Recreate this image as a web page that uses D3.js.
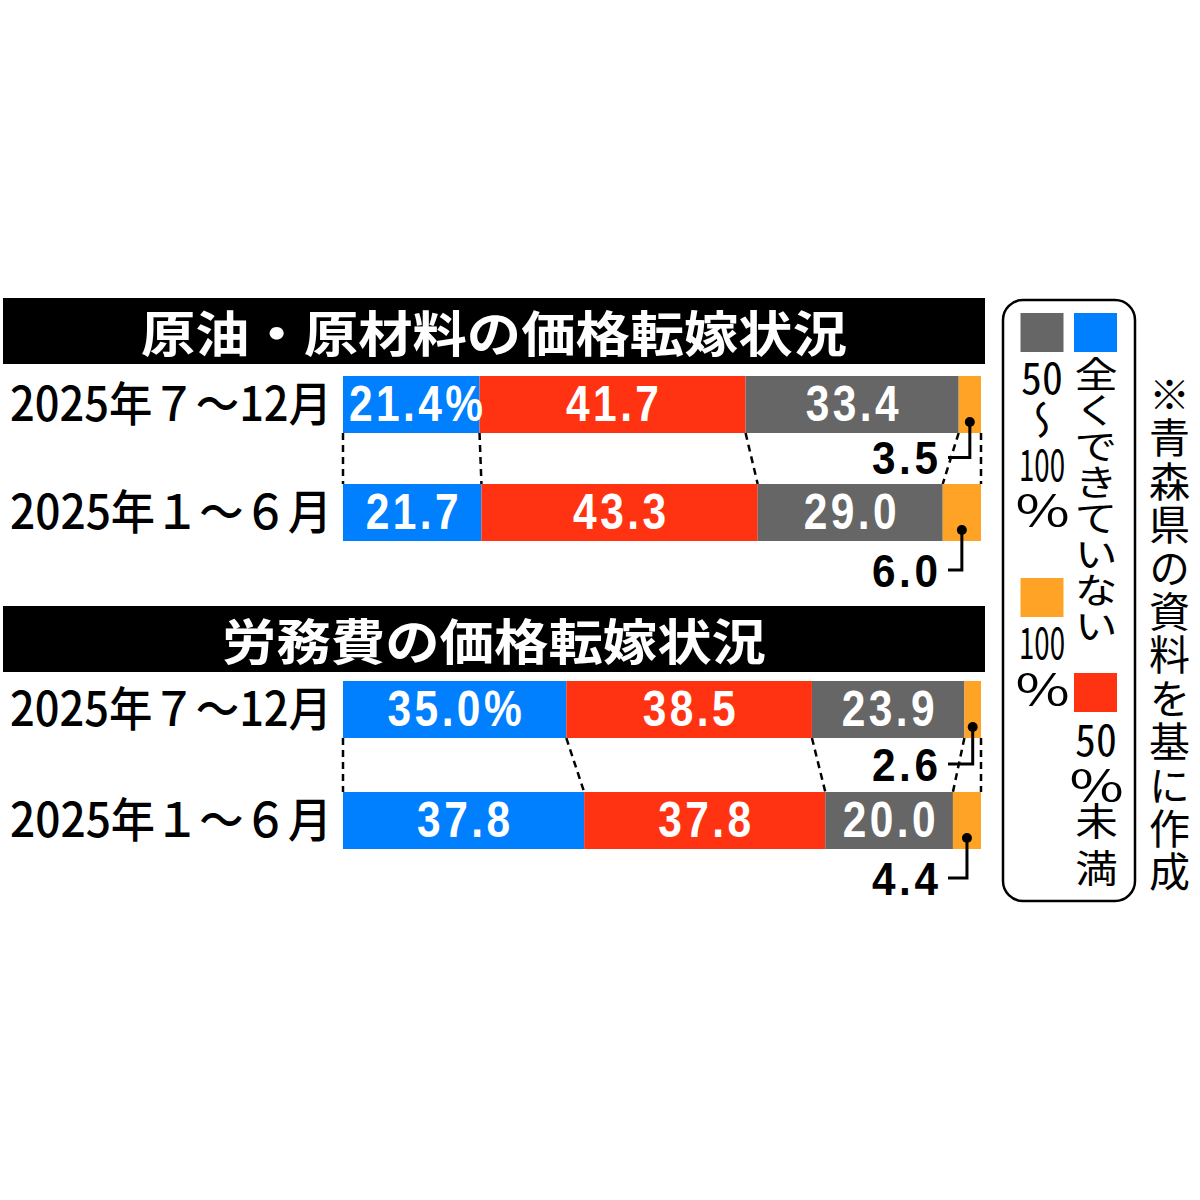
<!DOCTYPE html>
<html><head><meta charset="utf-8">
<script src="https://cdn.jsdelivr.net/npm/d3@7"></script>
<style>
html,body{margin:0;padding:0;background:#fff;}
#wrap{position:relative;width:1200px;height:1200px;overflow:hidden;}
svg{display:block;position:absolute;left:0;top:0;}
.vt{position:absolute;writing-mode:vertical-rl;line-height:1;white-space:nowrap;color:#000;
    font-family:'Noto Sans CJK JP','Noto Sans',sans-serif;font-weight:400;transform-origin:center top;}
.tcy{text-combine-upright:all;}
</style>
</head><body>
<div id="wrap"><svg id="chart" width="1200" height="1200"></svg></div>
<script>
// ---------- data ----------
const categories = ["全くできていない", "50%未満", "50～100%", "100%"];
const groupTitles = ["原油・原材料の価格転嫁状況", "労務費の価格転嫁状況"];
const periods = ["2025年７～12月", "2025年１～６月"];
const materialsJulDec = [21.4, 41.7, 33.4, 3.5];
const materialsJanJun = [21.7, 43.3, 29.0, 6.0];
const laborJulDec = [35.0, 38.5, 23.9, 2.6];
const laborJanJun = [37.8, 37.8, 20.0, 4.4];
const sourceNote = "※青森県の資料を基に作成";

// ---------- style / layout ----------
const colors = ["#0080ff", "#ff3311", "#666666", "#ffa326"];
const FONT = "'Noto Sans CJK JP', 'Noto Sans', sans-serif";
const NUMFONT = "'Liberation Sans', Arial, sans-serif";
const groups = [
  { title: groupTitles[0], rows: [materialsJulDec, materialsJanJun], titleY: 298, rowY: [376, 484] },
  { title: groupTitles[1], rows: [laborJulDec, laborJanJun], titleY: 606, rowY: [681, 792] }
];
const barH = 57, titleH = 66;
const NUM_FS = 50, SMALL_FS = 47, NUM_LS = 4, NUM_SX = 0.85, SMALL_SX = 0.9;

const svg = d3.select("#chart");
svg.append("rect").attr("width", 1200).attr("height", 1200).attr("fill", "#fff");

const x = d3.scaleLinear().domain([0, 100]).range([343, 981]);
const color = d3.scaleOrdinal().domain(categories).range(colors);

function stackRow(vals) {
  let c = 0;
  return vals.map((v, i) => { const d = { cat: categories[i], v, x0: c, x1: c + v, i }; c += v; return d; });
}

function numLabel(parent, str, fs, fill) {
  return parent.append("text")
    .attr("font-family", NUMFONT).attr("font-weight", 700).attr("font-size", fs)
    .attr("letter-spacing", NUM_LS).attr("fill", fill).text(str);
}

groups.forEach((g, gi) => {
  const G = svg.append("g");
  // title bar
  G.append("rect").attr("x", 3).attr("y", g.titleY).attr("width", 982).attr("height", titleH).attr("fill", "#000");
  G.append("text").attr("x", 494).attr("y", g.titleY + titleH / 2 - 1)
    .attr("text-anchor", "middle").attr("dominant-baseline", "central")
    .attr("font-family", FONT).attr("font-weight", 700).attr("font-size", 49)
    .attr("fill", "#fff")
    .attr("textLength", gi === 0 ? 706 : 544).attr("lengthAdjust", "spacingAndGlyphs")
    .text(g.title);

  const stacks = g.rows.map(stackRow);

  // dashed connectors
  const bTop = [0].concat(stacks[0].map(d => d.x1));
  const bBot = [0].concat(stacks[1].map(d => d.x1));
  G.selectAll("line.conn").data(d3.range(bTop.length)).join("line")
    .attr("x1", i => x(bTop[i])).attr("y1", g.rowY[0] + barH)
    .attr("x2", i => x(bBot[i])).attr("y2", g.rowY[1])
    .attr("stroke", "#000").attr("stroke-width", 2.5).attr("stroke-dasharray", "7,5");

  stacks.forEach((st, ri) => {
    const y0 = g.rowY[ri];
    // row label
    G.append("text").attr("x", 10).attr("y", y0 + barH / 2 - 4)
      .attr("dominant-baseline", "central")
      .attr("font-family", FONT).attr("font-weight", 500).attr("font-size", 47)
      .attr("fill", "#000")
      .attr("textLength", 322).attr("lengthAdjust", "spacingAndGlyphs")
      .text(periods[ri]);
    // segments
    G.selectAll(null).data(st).join("rect")
      .attr("x", d => x(d.x0)).attr("y", y0)
      .attr("width", d => x(d.x1) - x(d.x0)).attr("height", barH)
      .attr("fill", d => color(d.cat));
    // inside labels
    const inkC = y0 + barH / 2 - 1;
    st.slice(0, 3).forEach(d => {
      const txt = d.v.toFixed(1) + (ri === 0 && d.i === 0 ? "%" : "");
      const t = numLabel(G, txt, NUM_FS, "#fff");
      const w = (t.node().getComputedTextLength() - NUM_LS) * NUM_SX;
      const segW = x(d.x1) - x(d.x0);
      const tx = (w > segW - 10) ? x(d.x0) + 6 : (x(d.x0) + x(d.x1)) / 2 - w / 2;
      t.attr("transform", `translate(${tx},${inkC + 0.358 * NUM_FS}) scale(${NUM_SX},1)`);
    });
    // small last category with leader
    const last = st[3];
    const cx = (x(last.x0) + x(last.x1)) / 2;
    const dotY = y0 + barH - 11;
    const labY = ri === 0 ? (g.rowY[0] + barH + g.rowY[1]) / 2 - 1 : y0 + barH + 29;
    const endX = x(100) - 33;
    G.append("path")
      .attr("d", `M${cx},${dotY} L${cx},${labY} L${endX},${labY}`)
      .attr("fill", "none").attr("stroke", "#000").attr("stroke-width", 3);
    G.append("circle").attr("cx", cx).attr("cy", dotY).attr("r", 5).attr("fill", "#000");
    const lt = numLabel(G, last.v.toFixed(1), SMALL_FS, "#000");
    const lw = (lt.node().getComputedTextLength() - NUM_LS) * SMALL_SX;
    lt.attr("transform", `translate(${endX - 10 - lw},${labY + 0.358 * SMALL_FS}) scale(${SMALL_SX},1)`);
  });
});

// ---------- legend ----------
svg.append("rect").attr("x", 1003).attr("y", 300).attr("width", 132).attr("height", 601)
  .attr("rx", 20).attr("fill", "none").attr("stroke", "#000").attr("stroke-width", 2.5);

const legendLayout = [
  { cx: 1095.5, sqTop: 313, tok: [{ top: 356, fs: 36, ls: 0, sx: 1.2 }] },
  { cx: 1095.5, sqTop: 673, tok: [{ top: 715, fs: 44, sx: 0.95 }, { top: 761, fs: 42, sx: 1.4 }, { top: 802, fs: 38, ls: 9, sx: 1.12 }] },
  { cx: 1042, sqTop: 313, tok: [{ top: 353, fs: 44, sx: 0.95 }, { top: 400, fs: 40, sx: 1.05 }, { top: 440, fs: 44, sx: 0.95 }, { top: 486, fs: 42, sx: 1.4 }] },
  { cx: 1042, sqTop: 578, tok: [{ top: 618, fs: 44, sx: 0.95 }, { top: 665, fs: 42, sx: 1.4 }] }
];
const wrap = d3.select("#wrap");
function vdiv(txt, cx, top, fs, ls, sx, tcy) {
  const div = wrap.append("div").attr("class", "vt")
    .style("left", (cx - fs / 2) + "px").style("top", top + "px")
    .style("width", fs + "px").style("font-size", fs + "px")
    .style("letter-spacing", (ls || 0) + "px")
    .style("transform", `scaleX(${sx})`);
  if (tcy) div.append("span").attr("class", "tcy").text(txt);
  else div.text(txt);
  return div;
}
categories.forEach((cat, ci) => {
  const lay = legendLayout[ci];
  svg.append("rect").attr("x", lay.cx - 21.5).attr("y", lay.sqTop).attr("width", 43).attr("height", 39)
    .attr("fill", color(cat));
  const tokens = cat.match(/\d+|%|～|[^\d%～]+/g);
  tokens.forEach((tk, ti) => {
    const o = lay.tok[ti];
    vdiv(tk, lay.cx, o.top, o.fs, o.ls, o.sx, /^\d+$/.test(tk) || tk === "%");
  });
});

// source note (vertical)
vdiv(sourceNote, 1169, 374, 41, 2.4, 1.0, false);
</script>
</body></html>
